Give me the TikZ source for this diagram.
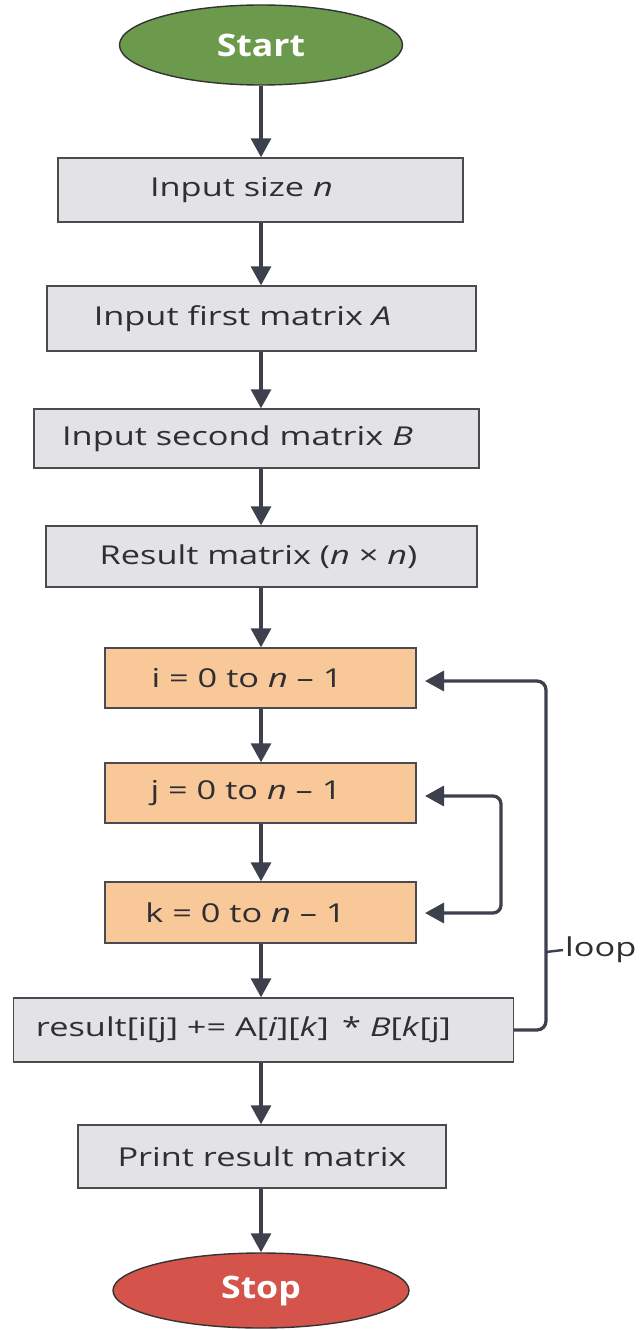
\documentclass[tikz,border=0pt]{standalone}
\usepackage{fontspec}
\setmainfont{Open Sans}[FakeStretch=1.32]
\newfontfamily\termfont{Open Sans}[FakeStretch=1.15]
\usetikzlibrary{shapes.geometric,arrows.meta}
\definecolor{boxgray}{HTML}{E3E3E6}
\definecolor{boxorange}{HTML}{F8C898}
\definecolor{edge}{HTML}{4A4A50}
\definecolor{arrowc}{HTML}{3C414D}
\definecolor{txt}{HTML}{2E2E33}
\definecolor{startg}{HTML}{6C9A4C}
\definecolor{stopr}{HTML}{D4534A}
\newcommand{\shl}[1]{\hspace*{#1pt}}
\tikzset{
  proc/.style={draw=edge,line width=1.4pt,fill=boxgray,rectangle,inner sep=0pt,
    font=\fontsize{26}{30}\selectfont,text=txt},
  loopbox/.style={proc,fill=boxorange},
  term/.style={draw=black!80,line width=1.4pt,ellipse,inner sep=0pt,
    font=\termfont\bfseries\fontsize{31}{35}\selectfont,text=white},
  arr/.style={draw=arrowc,line width=3.3pt,-{Triangle[width=20pt,length=19pt]}},
  barr/.style={draw=arrowc,line width=3.3pt,{Triangle[width=20pt,length=19pt]}-{Triangle[width=20pt,length=19pt]}},
}
\begin{document}
\begin{tikzpicture}[x=1pt,y=-1pt]
\useasboundingbox[fill=white] (0,0) rectangle (641,1330);
\node[term,fill=startg,minimum width=283pt,minimum height=80pt] (start) at (261,45) {Start};
\node[proc,minimum width=405pt,minimum height=64pt] (in1) at (260.5,190) {Input size \textit{n}\shl{38}};
\node[proc,minimum width=429pt,minimum height=65pt] (in2) at (261.5,318.5) {Input first matrix \textit{A}\shl{38}};
\node[proc,minimum width=445pt,minimum height=59pt] (in3) at (256.5,438.5) {Input second matrix \textit{B}\shl{38}};
\node[proc,minimum width=431pt,minimum height=61pt] (res) at (261.5,556.5) {Result matrix (\textit{n} × \textit{n})\shl{6}};
\node[loopbox,minimum width=311pt,minimum height=60pt] (li) at (260.5,678) {i = 0 to \textit{n} – 1\shl{27}};
\node[loopbox,minimum width=311pt,minimum height=60pt] (lj) at (260.5,793) {j = 0 to \textit{n} – 1\shl{29}};
\node[loopbox,minimum width=311pt,minimum height=61pt] (lk) at (260.5,912.5) {k = 0 to \textit{n} – 1\shl{30}};
\node[proc,minimum width=500pt,minimum height=64pt] (upd) at (263.5,1030) {result[i[j] += A[\textit{i}][\textit{k}]\, * \textit{B}[\textit{k}[j]\shl{40}};
\node[proc,minimum width=368pt,minimum height=63pt] (pr) at (262,1156.5) {Print result matrix};
\node[term,fill=stopr,minimum width=296pt,minimum height=75pt] (stop) at (261,1290.5) {Stop};
% vertical arrows
\foreach \a/\b in {start/in1,in1/in2,in2/in3,in3/res,res/li,li/lj,lj/lk,lk/upd,upd/pr,pr/stop}
  \draw[arr] (261,0 |- \a.south) -- (261,0 |- \b.north);
% outer loop
\coordinate (o1) at (546,1030);
\coordinate (o2) at (546,681);
\coordinate (itip) at (425,681);
\draw[arr,rounded corners=9pt] (upd.east) -- (o1) -- (o2) -- (itip);
% inner loop
\coordinate (jtip) at (425,796);
\coordinate (ktip) at (425,913);
\coordinate (c1) at (501,796);
\coordinate (c2) at (501,913);
\draw[barr,rounded corners=8pt] (jtip) -- (c1) -- (c2) -- (ktip);
% loop label
\coordinate (t0) at (546,952);
\node[anchor=west,font=\fontsize{26}{30}\selectfont,text=txt,inner sep=0pt] (lbl) at (565,950) {loop};
\draw[draw=arrowc,line width=2.4pt] (t0) -- ([xshift=-2pt]lbl.west);
\end{tikzpicture}
\end{document}
